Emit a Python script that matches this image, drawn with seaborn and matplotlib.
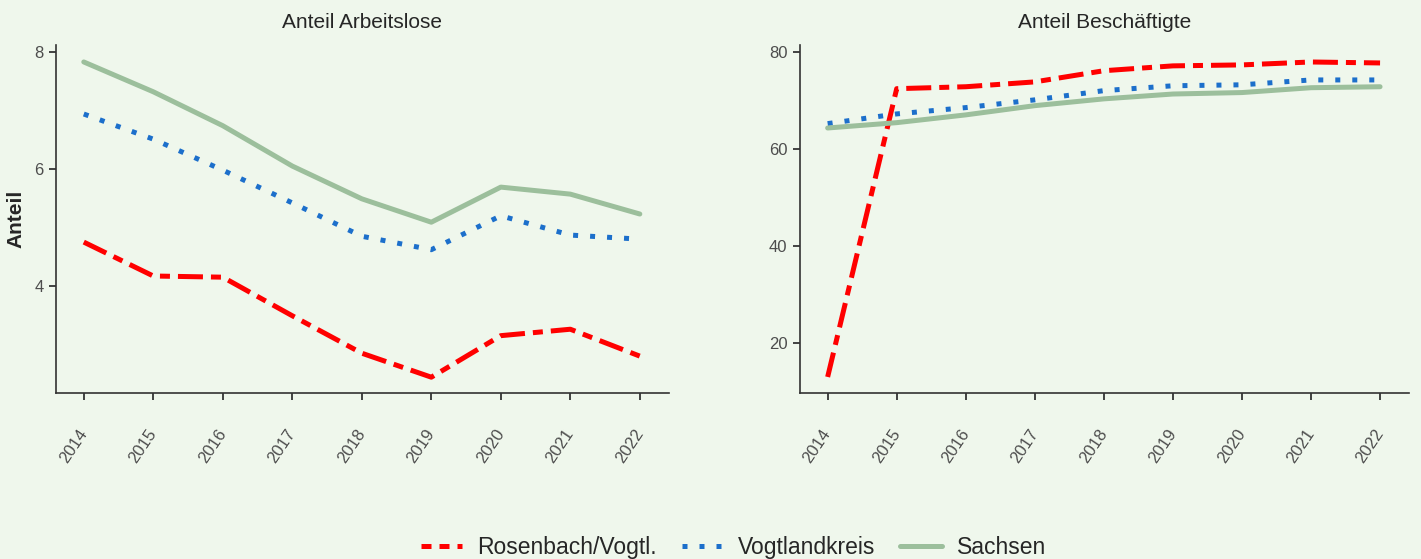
import pandas as pd
import seaborn as sns
import matplotlib.pyplot as plt
from matplotlib.lines import Line2D

# Werte
jahre = [2014, 2015, 2016, 2017, 2018, 2019, 2020, 2021, 2022]
regionen = ["Rosenbach/Vogtl.", "Vogtlandkreis", "Sachsen"]

alo_rosenbach = [4.75, 4.17, 4.15, 3.49, 2.85, 2.44, 3.15, 3.26, 2.80]
alo_vogtland = [6.94, 6.51, 5.98, 5.42, 4.85, 4.62, 5.20, 4.87, 4.80]
alo_sachsen = [7.83, 7.32, 6.74, 6.05, 5.49, 5.09, 5.69, 5.57, 5.23]

bes_rosenbach = [13.0, 72.4, 72.8, 73.8, 76.1, 77.1, 77.3, 77.9, 77.7]
bes_vogtland = [65.2, 67.2, 68.5, 70.1, 72.0, 73.0, 73.2, 74.2, 74.2]
bes_sachsen = [64.3, 65.4, 67.0, 68.9, 70.3, 71.3, 71.6, 72.6, 72.8]


def lang(werte):
    rows = []
    for region, serie in zip(regionen, werte):
        for j, w in zip(jahre, serie):
            rows.append({"Jahr": j, "Region": region, "Anteil": w})
    return pd.DataFrame(rows)


df_alo = lang([alo_rosenbach, alo_vogtland, alo_sachsen])
df_bes = lang([bes_rosenbach, bes_vogtland, bes_sachsen])

bg = "#EFF7EC"
farben = {"Rosenbach/Vogtl.": "#FF0000", "Vogtlandkreis": "#1C6FCB", "Sachsen": "#9CBF9C"}
striche = {"Rosenbach/Vogtl.": (5, 1.6, 2, 1.6), "Vogtlandkreis": (1, 2.4), "Sachsen": ""}
lw = 3.6

sns.set_style("ticks")
plt.rcParams["font.family"] = ["Liberation Sans", "DejaVu Sans"]

fig = plt.figure(figsize=(14.21, 5.59), dpi=100, facecolor=bg)
ax1 = fig.add_axes([0.0394, 0.297, 0.4314, 0.6225])
ax2 = fig.add_axes([0.563, 0.297, 0.4286, 0.6225])

for ax, df, titel in [(ax1, df_alo, "Anteil Arbeitslose"), (ax2, df_bes, "Anteil Beschäftigte")]:
    ax.set_facecolor(bg)
    sns.lineplot(data=df, x="Jahr", y="Anteil", hue="Region", style="Region",
                 hue_order=regionen, style_order=regionen, palette=farben,
                 dashes=striche, linewidth=lw, ax=ax, legend=False)
    ax.set_title(titel, fontsize=15, pad=12)
    ax.set_xlabel("")
    ax.set_xticks(jahre)
    ax.set_xticklabels([str(j) for j in jahre], rotation=56, ha="right",
                       va="center", rotation_mode="anchor")
    ax.tick_params(axis="both", colors="#333333", labelcolor="#4D4D4D",
                   labelsize=12, length=5, width=1.3)
    ax.tick_params(axis="x", pad=22)
    ax.tick_params(axis="y", pad=4)
    for s in ["top", "right"]:
        ax.spines[s].set_visible(False)
    for s in ["left", "bottom"]:
        ax.spines[s].set_color("#333333")
        ax.spines[s].set_linewidth(1.2)
    ax.set_xlim(2013.6, 2022.42)

ax1.set_ylim(2.17, 8.12)
ax1.set_yticks([4, 6, 8])
ax1.set_ylabel("Anteil", fontsize=15, fontweight="bold", labelpad=6)
ax2.set_ylim(9.7, 81.4)
ax2.set_yticks([20, 40, 60, 80])
ax2.set_ylabel("")

# Legende unten
legend_striche = {"Rosenbach/Vogtl.": (2, 1.6), "Vogtlandkreis": (1, 2.4), "Sachsen": None}
handles = []
for r in regionen:
    h = Line2D([], [], color=farben[r], lw=lw)
    if legend_striche[r] is not None:
        h.set_dashes(legend_striche[r])
    handles.append(h)
fig.legend(handles, regionen, loc="center", bbox_to_anchor=(0.516, 0.02),
           ncol=3, frameon=False, fontsize=16.5, handlelength=1.8,
           handletextpad=0.65, columnspacing=1.1)

fig.savefig("out.png", dpi=100, facecolor=bg)
